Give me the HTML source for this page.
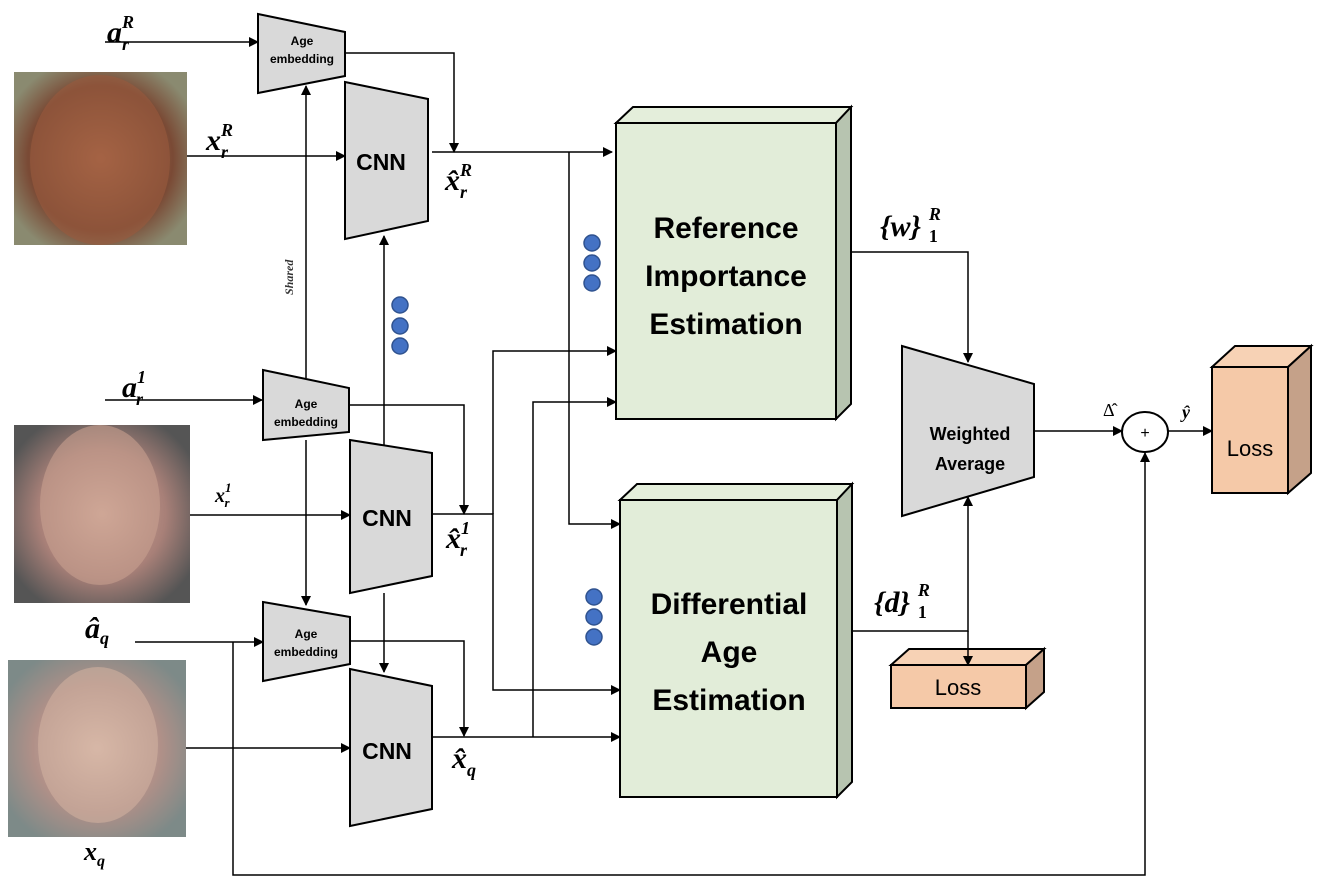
<!DOCTYPE html>
<html><head><meta charset="utf-8"><style>
html,body{margin:0;padding:0;background:#fff;}
svg{display:block}
.m{font-family:"Liberation Serif",serif;font-style:italic;font-weight:bold;}
.c{font-family:"Liberation Sans",sans-serif;font-weight:bold;}
</style></head><body>
<svg width="1328" height="886" viewBox="0 0 1328 886" xmlns="http://www.w3.org/2000/svg">
<defs>
<marker id="a" markerWidth="10" markerHeight="10" refX="9" refY="5" orient="auto" markerUnits="userSpaceOnUse">
<path d="M0,0 L10,5 L0,10 z" fill="#000"/></marker>
<radialGradient id="f1" cx="50%" cy="50%" r="60%"><stop offset="0" stop-color="#b5704f"/><stop offset="0.7" stop-color="#7a4a35"/><stop offset="1" stop-color="#8a8a70"/></radialGradient>
<radialGradient id="f2" cx="50%" cy="50%" r="60%"><stop offset="0" stop-color="#d8b0a0"/><stop offset="0.6" stop-color="#a88078"/><stop offset="1" stop-color="#555"/></radialGradient>
<radialGradient id="f3" cx="50%" cy="50%" r="60%"><stop offset="0" stop-color="#e0c0b0"/><stop offset="0.6" stop-color="#b09088"/><stop offset="1" stop-color="#7d8a88"/></radialGradient>
</defs>

<rect x="14" y="72" width="173" height="173" fill="url(#f1)"/>
<ellipse cx="100" cy="160" rx="70" ry="85" fill="#9a5a3e" opacity="0.6"/>
<rect x="14" y="425" width="176" height="178" fill="url(#f2)"/>
<ellipse cx="100" cy="505" rx="60" ry="80" fill="#c8a090" opacity="0.6"/>
<rect x="8" y="660" width="178" height="177" fill="url(#f3)"/>
<ellipse cx="98" cy="745" rx="60" ry="78" fill="#d0b0a0" opacity="0.6"/>

<g fill="#d9d9d9" stroke="#000" stroke-width="2">
<polygon points="258,14 345,32 345,76 258,93"/>
<polygon points="263,370 349,388 349,432 263,440"/>
<polygon points="263,602 350,617 350,664 263,681"/>
<polygon points="345,82 428,99 428,221 345,239"/>
<polygon points="350,440 432,453 432,576 350,593"/>
<polygon points="350,669 432,686 432,809 350,826"/>
<polygon points="902,346 1034,384 1034,477 902,516"/>
</g>

<g stroke="#000" stroke-width="2">
<polygon points="616,123 633,107 851,107 836,123" fill="#e4eedb"/>
<polygon points="836,123 851,107 851,404 836,419" fill="#b7c4b0"/>
<rect x="616" y="123" width="220" height="296" fill="#e2edd9"/>
<polygon points="620,500 637,484 852,484 837,500" fill="#e4eedb"/>
<polygon points="837,500 852,484 852,782 837,797" fill="#b7c4b0"/>
<rect x="620" y="500" width="217" height="297" fill="#e2edd9"/>
<polygon points="1212,367 1235,346 1311,346 1288,367" fill="#f7d2b5"/>
<polygon points="1288,367 1311,346 1311,473 1288,493" fill="#c5a189"/>
<rect x="1212" y="367" width="76" height="126" fill="#f5c9a8"/>
<polygon points="891,665 909,649 1044,649 1026,665" fill="#f7d2b5"/>
<polygon points="1026,665 1044,649 1044,692 1026,708" fill="#c5a189"/>
<rect x="891" y="665" width="135" height="43" fill="#f5c9a8"/>
</g>
<ellipse cx="1145" cy="432" rx="23" ry="20" fill="#fff" stroke="#000" stroke-width="2"/>

<g fill="none" stroke="#000" stroke-width="1.5" marker-end="url(#a)">
<path d="M105,42 H258"/>
<path d="M345,53 H454 V152"/>
<path d="M187,156 H345"/>
<path d="M432,152 H612"/>
<path d="M569,152 V524 H620"/>
<path d="M306,378 V86"/>
<path d="M306,440 V605"/>
<path d="M384,445 V236"/>
<path d="M384,593 V672"/>
<path d="M105,400 H262"/>
<path d="M349,405 H464 V514"/>
<path d="M190,515 H350"/>
<path d="M432,514 H493 V690 H620"/>
<path d="M493,514 V351 H616"/>
<path d="M432,737 H620"/>
<path d="M533,737 V402 H616"/>
<path d="M135,642 H263"/>
<path d="M233,642 V875 H1145 V453"/>
<path d="M350,641 H464 V736"/>
<path d="M186,748 H350"/>
<path d="M851,252 H968 V362"/>
<path d="M852,631 H968 V497"/>
<path d="M968,631 V665"/>
<path d="M1034,431 H1122"/>
<path d="M1168,431 H1212"/>
</g>

<g fill="#4472c4" stroke="#2f528f" stroke-width="1.5">
<circle cx="400" cy="305" r="8"/><circle cx="400" cy="326" r="8"/><circle cx="400" cy="346" r="8"/>
<circle cx="592" cy="243" r="8"/><circle cx="592" cy="263" r="8"/><circle cx="592" cy="283" r="8"/>
<circle cx="594" cy="597" r="8"/><circle cx="594" cy="617" r="8"/><circle cx="594" cy="637" r="8"/>
</g>

<g class="c" text-anchor="middle" fill="#000">
<text x="302" y="45" font-size="12">Age</text><text x="302" y="63" font-size="12">embedding</text>
<text x="306" y="408" font-size="12">Age</text><text x="306" y="426" font-size="12">embedding</text>
<text x="306" y="638" font-size="12">Age</text><text x="306" y="656" font-size="12">embedding</text>
<text x="381" y="170" font-size="23">CNN</text>
<text x="387" y="526" font-size="23">CNN</text>
<text x="387" y="759" font-size="23">CNN</text>
<text x="726" y="238" font-size="30">Reference</text>
<text x="726" y="286" font-size="30">Importance</text>
<text x="726" y="334" font-size="30">Estimation</text>
<text x="729" y="614" font-size="30">Differential</text>
<text x="729" y="662" font-size="30">Age</text>
<text x="729" y="710" font-size="30">Estimation</text>
<text x="970" y="440" font-size="18">Weighted</text>
<text x="970" y="470" font-size="18">Average</text>
</g>
<g font-family="Liberation Sans,sans-serif" text-anchor="middle" fill="#000">
<text x="1250" y="456" font-size="22">Loss</text>
<text x="958" y="695" font-size="22">Loss</text>
<text x="1145" y="438" font-size="16">+</text>
</g>

<g class="m" fill="#000">
<text x="107" y="42" font-size="30">a<tspan font-size="18" dy="-14">R</tspan><tspan font-size="18" dx="-12" dy="22">r</tspan></text>
<text x="206" y="150" font-size="30">x<tspan font-size="18" dy="-14">R</tspan><tspan font-size="18" dx="-12" dy="22">r</tspan></text>
<text x="445" y="190" font-size="30">x̂<tspan font-size="18" dy="-14">R</tspan><tspan font-size="18" dx="-12" dy="22">r</tspan></text>
<text x="122" y="397" font-size="30">a<tspan font-size="18" dy="-14">1</tspan><tspan font-size="18" dx="-10" dy="22">r</tspan></text>
<text x="215" y="502" font-size="20">x<tspan font-size="13" dy="-10">1</tspan><tspan font-size="13" dx="-7" dy="15">r</tspan></text>
<text x="446" y="548" font-size="30">x̂<tspan font-size="18" dy="-14">1</tspan><tspan font-size="18" dx="-10" dy="22">r</tspan></text>
<text x="85" y="638" font-size="30">â<tspan font-size="18" dy="6">q</tspan></text>
<text x="84" y="860" font-size="26">x<tspan font-size="16" dy="6">q</tspan></text>
<text x="452" y="768" font-size="30">x̂<tspan font-size="18" dy="8">q</tspan></text>
<text x="880" y="236" font-size="30">{w}<tspan font-size="18" dx="8" dy="-16">R</tspan><tspan font-size="18" dx="-12" dy="22" font-style="normal">1</tspan></text>
<text x="874" y="612" font-size="30">{d}<tspan font-size="18" dx="8" dy="-16">R</tspan><tspan font-size="18" dx="-12" dy="22" font-style="normal">1</tspan></text>
<text x="1182" y="418" font-size="18">ŷ</text>
<text x="1103" y="416" font-size="18" font-style="normal" font-weight="normal">Δ̂</text>
<text x="293" y="295" font-size="12" transform="rotate(-90 293 295)" font-weight="bold" fill="#333">Shared</text>
</g>
</svg>
</body></html>
